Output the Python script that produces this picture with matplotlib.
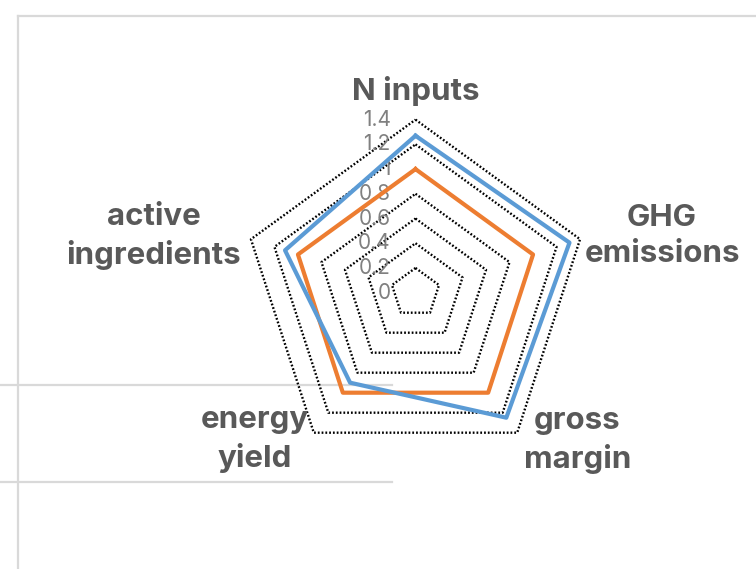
import numpy as np
import matplotlib
matplotlib.use('Agg')
import matplotlib.pyplot as plt
from matplotlib.lines import Line2D

# indicators, clockwise from the top
categories = ['N inputs', 'GHG\nemissions', 'gross\nmargin', 'energy\nyield', 'active\ningredients']
reference = [1.0, 1.0, 1.0, 1.0, 1.0]
scenario = [1.27, 1.31, 1.25, 0.90, 1.11]
ring_values = [0.2, 0.4, 0.6, 0.8, 1.0, 1.2, 1.4]
tick_values = [0, 0.2, 0.4, 0.6, 0.8, 1.0, 1.2, 1.4]
tick_labels = ['0', '0.2', '0.4', '0.6', '0.8', '1', '1.2', '1.4']

W, H = 756, 569
cx, cy = 415.5, 292.7   # centre of the web, pixels from top-left
unit = 123.6            # pixels per 1.0 on the radial scale

plt.rcParams['font.family'] = ['Inter', 'DejaVu Sans']

fig = plt.figure(figsize=(W / 100, H / 100), dpi=100)
ax = fig.add_axes([0, 0, 1, 1])
ax.set_xlim(-cx / unit, (W - cx) / unit)
ax.set_ylim(-(H - cy) / unit, cy / unit)
ax.axis('off')
ax.patch.set_visible(False)

n = len(categories)
angles = np.pi / 2 - 2 * np.pi * np.arange(n) / n


def web(vals):
    vals = np.asarray(vals, dtype=float)
    x = vals * np.cos(angles)
    y = vals * np.sin(angles)
    return np.append(x, x[0]), np.append(y, y[0])


# dotted pentagon gridlines
for r in ring_values:
    x, y = web([r] * n)
    ax.plot(x, y, color='black', lw=1.7, linestyle=(0, (0.75, 0.85)),
            dash_capstyle='butt', solid_joinstyle='miter', zorder=2)

# radial scale labels along the vertical axis
for v, lab in zip(tick_values, tick_labels):
    ax.text(-0.2, v, lab, ha='right', va='center', fontsize=15,
            color='#808080', zorder=3)

for vals, col in [(reference, '#ED7D31'), (scenario, '#5B9BD5')]:
    x, y = web(vals)
    ax.plot(x, y, color=col, lw=3.0, solid_joinstyle='round', zorder=4)

# category labels just outside the outer ring (offsets in pixels)
offsets = [(0, 29), (82, 3), (60, -8), (-59, -7), (-97, 3)]
outer = 1.4
for lab, a, (dx, dy) in zip(categories, angles, offsets):
    ax.annotate(lab, (outer * np.cos(a), outer * np.sin(a)),
                xytext=(dx * 0.72, dy * 0.72), textcoords='offset points',
                ha='center', va='center', fontsize=22.5, fontweight='bold',
                color='#595959', linespacing=1.38, zorder=5)

# sheet gridlines around the chart
def hline(y0, x0, x1):
    fig.add_artist(Line2D([x0 / W, x1 / W], [1 - y0 / H, 1 - y0 / H],
                          transform=fig.transFigure, color='#d9d9d9', lw=1.6, zorder=-1))


def vline(x0, y0, y1):
    fig.add_artist(Line2D([x0 / W, x0 / W], [1 - y0 / H, 1 - y1 / H],
                          transform=fig.transFigure, color='#d9d9d9', lw=1.6, zorder=-1))


hline(15.5, 17.5, W)
vline(17.8, 15.5, H)
hline(385, 0, 392)
hline(481.5, 0, 392)

fig.savefig('out.png', dpi=100, facecolor='white')
